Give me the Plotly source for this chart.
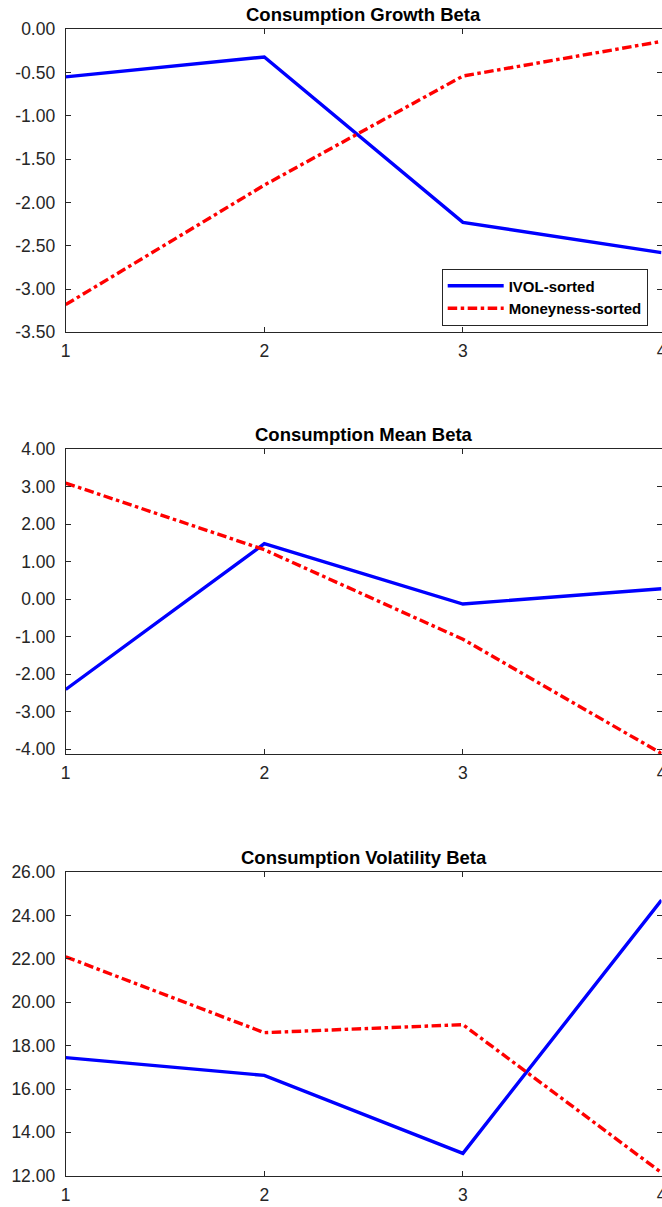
import plotly.graph_objects as go

# ---- data ----
portfolios = [1, 2, 3, 4]
x_tick_labels = ["1", "2", "3", "4"]

growth_ivol = [-0.55, -0.32, -2.23, -2.58]
growth_money = [-3.18, -1.80, -0.54, -0.14]

mean_ivol = [-2.41, 1.48, -0.13, 0.28]
mean_money = [3.10, 1.32, -1.07, -4.12]

vol_ivol = [17.45, 16.63, 13.03, 24.72]
vol_money = [22.10, 18.60, 18.97, 12.14]

growth_ticks = [-3.5, -3.0, -2.5, -2.0, -1.5, -1.0, -0.5, 0.0]
mean_ticks = [-4, -3, -2, -1, 0, 1, 2, 3, 4]
vol_ticks = [12, 14, 16, 18, 20, 22, 24, 26]

titles = ["Consumption Growth Beta", "Consumption Mean Beta", "Consumption Volatility Beta"]
series_names = ["IVOL-sorted", "Moneyness-sorted"]

# ---- layout geometry (pixels) ----
W, H = 662, 1207
x_left, x_right = 65.7, 661.5
panels_px = [(29.3, 332.3), (449.3, 754.3), (872.3, 1175.7)]
y_ranges = [[-3.5, 0.0], [-4.14, 4.0], [12.0, 26.0]]
y_ticks = [growth_ticks, mean_ticks, vol_ticks]
data = [(growth_ivol, growth_money), (mean_ivol, mean_money), (vol_ivol, vol_money)]

AX = "#262626"
FONT = "Liberation Sans, Arial, Helvetica, sans-serif"

fig = go.Figure()
layout = dict(
    width=W, height=H,
    margin=dict(l=0, r=0, t=0, b=0, autoexpand=False),
    paper_bgcolor="white", plot_bgcolor="white",
    font=dict(family=FONT, size=17.5, color=AX),
    showlegend=True,
    legend=dict(
        x=441.7 / W, y=1 - 268.5 / H, xanchor="left", yanchor="top",
        bgcolor="white", bordercolor=AX, borderwidth=1,
        font=dict(family=FONT, size=15, color="black", weight="bold"),
        tracegroupgap=0, itemwidth=56, traceorder="normal",
    ),
    annotations=[],
)

for i in range(3):
    top, bot = panels_px[i]
    sfx = "" if i == 0 else str(i + 1)
    xa, ya = "x" + sfx, "y" + sfx
    ivol, money = data[i]
    fig.add_trace(go.Scatter(
        x=portfolios, y=ivol, mode="lines", name=series_names[0],
        line=dict(color="#0000ff", width=3.4), xaxis=xa, yaxis=ya,
        showlegend=(i == 0)))
    fig.add_trace(go.Scatter(
        x=portfolios, y=money, mode="lines", name=series_names[1],
        line=dict(color="#ff0000", width=3.4, dash="9.5px,3.5px,3.5px,3.5px"),
        xaxis=xa, yaxis=ya, showlegend=(i == 0)))

    common = dict(showgrid=False, zeroline=False, showline=True, linecolor=AX,
                  linewidth=1, ticks="inside", ticklen=5, tickcolor=AX,
                  tickwidth=1, mirror="ticks", automargin=False,
                  ticklabeloverflow="allow",
                  tickfont=dict(family=FONT, size=17.5, color=AX))
    layout["xaxis" + sfx] = dict(
        common, domain=[x_left / W, x_right / W], range=[1, 4],
        anchor=ya, tickvals=portfolios, ticktext=x_tick_labels,
        ticklabelstandoff=3)
    layout["yaxis" + sfx] = dict(
        common, domain=[1 - bot / H, 1 - top / H], range=y_ranges[i],
        anchor=xa, tickvals=y_ticks[i],
        ticktext=[f"{v:.2f}" for v in y_ticks[i]],
        ticklabelstandoff=6)
    layout["annotations"].append(dict(
        text="<b>" + titles[i] + "</b>", xref="paper", yref="paper",
        x=(x_left + x_right) / 2 / W, y=1 - top / H,
        xanchor="center", yanchor="bottom", yshift=2, showarrow=False,
        font=dict(family=FONT, size=18.5, color="black")))

fig.update_layout(**layout)

fig.write_html(
    "out.html",
    config={"displayModeBar": False},
    post_script="document.body.style.margin='0';document.body.style.overflow='hidden';",
)
